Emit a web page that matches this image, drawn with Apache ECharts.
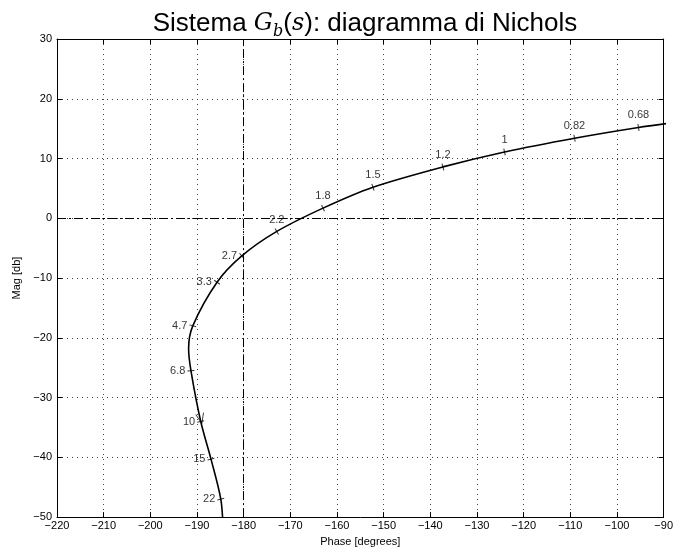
<!DOCTYPE html>
<html>
<head>
<meta charset="utf-8">
<script src="https://cdn.jsdelivr.net/npm/echarts@6/dist/echarts.min.js"></script>
<style>
    html, body { margin: 0; padding: 0; background: #fff; }
    #chart { width: 676px; height: 552px; }
</style>
</head>
<body>
<div id="chart"></div>
<script>
// Nichols curve (phase in degrees, magnitude in dB)
const curvePhase = [-88, -95.4, -109.1, -124.1, -137.3, -152.3, -163.0, -172.9, -180.4, -185.7, -190.9, -191.8, -191.3, -189.2, -187.0, -184.9, -184.4];
const curveMag = [16.0, 15.2, 13.4, 11.1, 8.6, 5.2, 1.7, -2.2, -6.3, -10.7, -18.0, -21.8, -25.5, -34.0, -40.3, -47.0, -52];

// frequency marks along the curve
const freqLabels = ['0.68', '0.82', '1', '1.2', '1.5', '1.8', '2.2', '2.7', '3.3', '4.7', '6.8', '10', '15', '22'];
const freqPhase = [-95.4, -109.1, -124.1, -137.3, -152.3, -163.0, -172.9, -180.4, -185.7, -190.9, -191.3, -189.2, -187.0, -184.9];
const freqMag = [15.2, 13.4, 11.1, 8.6, 5.2, 1.7, -2.2, -6.3, -10.7, -18.0, -25.5, -34.0, -40.3, -47.0];
const arrowLabel = '10';

const phaseMin = -220, phaseMax = -90, phaseStep = 10;
const magMin = -50, magMax = 30, magStep = 10;
const critPhase = -180, critMag = 0;

const minus = v => String(v).replace('-', '\u2212');
const font = 'Liberation Sans, Arial, sans-serif';

const chart = echarts.init(document.getElementById('chart'));

const curveData = curvePhase.map((p, i) => [p, curveMag[i]]);
const markData = freqLabels.map((f, i) => ({
    name: f,
    value: [freqPhase[i], freqMag[i]],
    label: { position: freqMag[i] > -4 ? 'top' : 'left', distance: freqMag[i] > -4 ? 3 : 2 }
}));

const axisCommon = {
    type: 'value',
    axisLine: { show: true, onZero: false, lineStyle: { color: '#000', width: 1 } },
    axisTick: { show: true, inside: true, length: 5, lineStyle: { color: '#000' } },
    axisLabel: { color: '#000', fontFamily: font, fontSize: 11, formatter: minus },
    splitLine: { show: false }
};

chart.setOption({
    animation: false,
    backgroundColor: '#fff',
    title: {
        text: '{a|Sistema }{i|G}{s|b}{a|(}{i|s}{a|): diagramma di Nichols}',
        left: 360,
        textAlign: 'center',
        top: 3,
        textStyle: {
            rich: {
                a: { fontFamily: font, fontWeight: 'normal', fontSize: 26, color: '#000', lineHeight: 32 },
                i: { fontFamily: 'DejaVu Serif, serif', fontWeight: 'normal', fontStyle: 'italic', fontSize: 24, color: '#000', lineHeight: 32 },
                s: { fontFamily: 'DejaVu Serif, serif', fontWeight: 'normal', fontStyle: 'italic', fontSize: 16, color: '#000', lineHeight: 32, verticalAlign: 'bottom' }
            }
        }
    },
    grid: { left: 57, right: 12, top: 39, bottom: 33 },
    xAxis: [
        Object.assign({}, axisCommon, {
            min: phaseMin, max: phaseMax, interval: phaseStep, position: 'bottom',
            name: 'Phase [degrees]', nameLocation: 'middle', nameGap: 18,
            nameTextStyle: { color: '#000', fontFamily: font, fontSize: 11 },
            axisLabel: Object.assign({}, axisCommon.axisLabel, { margin: 3 }),
            splitLine: { show: true, lineStyle: { color: '#444', type: [1, 4], width: 1 } }
        }),
        Object.assign({}, axisCommon, {
            min: phaseMin, max: phaseMax, interval: phaseStep, position: 'top',
            axisLabel: { show: false }
        })
    ],
    yAxis: [
        Object.assign({}, axisCommon, {
            min: magMin, max: magMax, interval: magStep, position: 'left',
            name: 'Mag [db]', nameLocation: 'middle', nameGap: 27,
            nameTextStyle: { color: '#000', fontFamily: font, fontSize: 11 },
            axisLabel: Object.assign({}, axisCommon.axisLabel, { margin: 5 }),
            splitLine: { show: true, lineStyle: { color: '#444', type: [1, 4], width: 1 } }
        }),
        Object.assign({}, axisCommon, {
            min: magMin, max: magMax, interval: magStep, position: 'right',
            axisLabel: { show: false }
        })
    ],
    series: [
        {
            type: 'line',
            data: curveData,
            smooth: 0.3,
            showSymbol: false,
            clip: true,
            lineStyle: { color: '#000', width: 1.6 },
            markLine: {
                silent: true,
                symbol: 'none',
                label: { show: false },
                lineStyle: { color: '#000', width: 1, type: [9, 3, 2, 3] },
                data: [{ xAxis: critPhase }, { yAxis: critMag }]
            },
            z: 3
        },
        {
            type: 'scatter',
            data: markData,
            symbol: 'rect',
            symbolSize: [1, 7],
            itemStyle: { color: '#000' },
            label: {
                show: true,
                formatter: p => p.name,
                color: '#000',
                fontFamily: font,
                fontSize: 11
            },
            z: 4
        },
        {
            type: 'scatter',
            data: markData.filter(d => d.name === arrowLabel).map(d => ({ name: d.name, value: d.value })),
            symbol: 'path://M0,0L5,10L10,0',
            symbolSize: [8, 10],
            symbolOffset: [0, -3],
            itemStyle: { color: 'none', borderColor: '#000', borderWidth: 1 },
            z: 5
        }
    ]
});

// orient the tick marks and the arrow along the curve on screen
const px = freqLabels.map((f, i) => chart.convertToPixel({ xAxisIndex: 0, yAxisIndex: 0 }, [freqPhase[i], freqMag[i]]));
const angles = px.map((p, i) => {
    const a = px[Math.max(0, i - 1)];
    const b = px[Math.min(px.length - 1, i + 1)];
    return Math.atan2(-(b[1] - a[1]), b[0] - a[0]) * 180 / Math.PI;
});
const arrowIdx = freqLabels.indexOf(arrowLabel);
chart.setOption({
    series: [
        {},
        { data: markData.map((d, i) => Object.assign({}, d, { symbolRotate: angles[i] })) },
        { data: [{ name: arrowLabel, value: [freqPhase[arrowIdx], freqMag[arrowIdx]], symbolRotate: angles[arrowIdx] + 90 }] }
    ]
});
</script>
</body>
</html>
